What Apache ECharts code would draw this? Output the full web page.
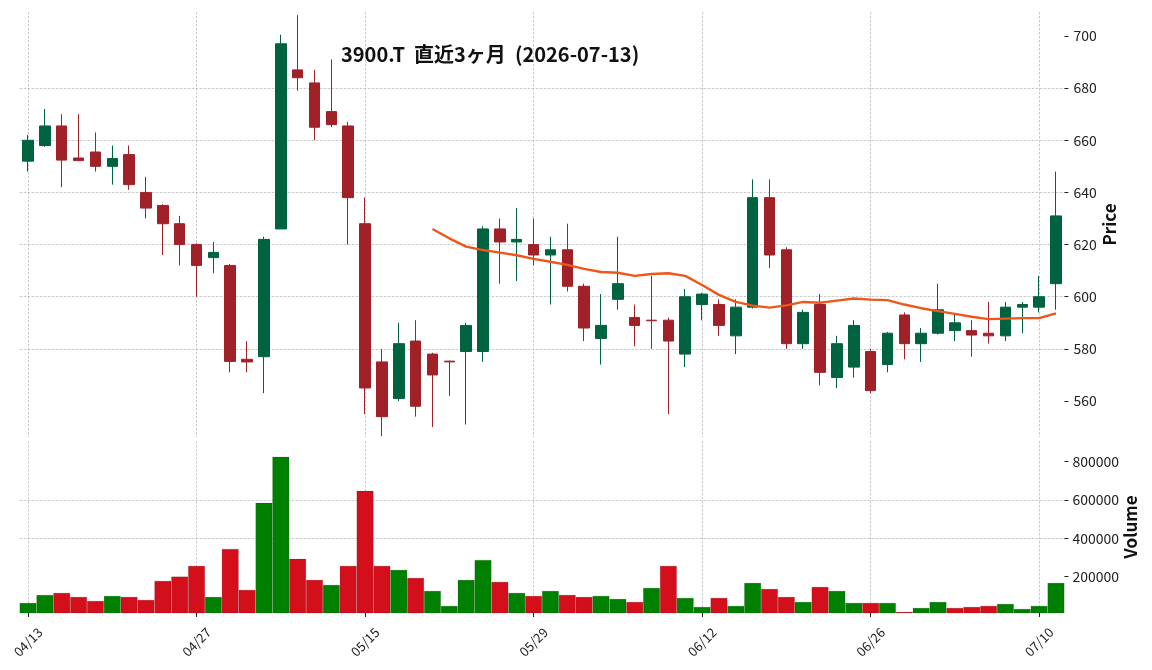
<!DOCTYPE html>
<html>
<head>
<meta charset="utf-8">
<script src="https://cdn.jsdelivr.net/npm/echarts@6/dist/echarts.min.js"></script>
<style>
html, body { margin: 0; padding: 0; background: #fff; }
#chart { width: 1152px; height: 670px; }
</style>
</head>
<body>
<div id="chart"></div>
<script>
// 3900.T daily candles, last 3 months
var dates = ['04/13','04/14','04/15','04/16','04/17','04/20','04/21','04/22','04/23','04/24',
    '04/27','04/28','04/30','05/01','05/07','05/08','05/11','05/12','05/13','05/14',
    '05/15','05/18','05/19','05/20','05/21','05/22','05/25','05/26','05/27','05/28',
    '05/29','06/01','06/02','06/03','06/04','06/05','06/08','06/09','06/10','06/11',
    '06/12','06/15','06/16','06/17','06/18','06/19','06/22','06/23','06/24','06/25',
    '06/26','06/29','06/30','07/01','07/02','07/03','07/06','07/07','07/08','07/09',
    '07/10','07/13'];
var opens = [652, 658, 665.5, 653.2, 655.5, 650, 654.5, 640, 635, 628,
    620, 615, 612, 576, 577, 626, 687, 682, 671, 665.5,
    628, 575, 561, 583, 578, 575.3, 579, 579, 626, 621,
    620, 616, 618, 604, 584, 599, 592, 591, 591, 578,
    597, 597, 585, 596, 638, 618, 582, 597, 569, 573,
    579, 574, 593, 582, 586, 587, 587, 586, 585, 596,
    596, 605];
var closes = [660, 665.5, 652.4, 652.2, 650, 653, 643, 634, 628, 620,
    612, 617, 575.2, 575, 622, 697, 684, 665, 666, 638,
    565, 554, 582, 558, 570, 575, 589, 626, 621, 622,
    616, 618, 604, 588, 589, 605, 589, 590.8, 583, 600,
    601, 589, 596, 638, 616, 582, 594, 571, 582, 589,
    564, 586, 582, 586, 595, 590, 585.3, 585, 596, 597,
    600, 631];
var lows = [648, 657.5, 642, 652, 648, 643, 641, 630, 616, 612,
    600, 609, 571, 571, 563, 626, 679, 660, 665, 620,
    555, 546.5, 560, 554, 550, 562, 551, 575, 605, 606,
    612, 597, 602, 583, 574, 595, 581, 580, 555, 573,
    591, 585, 578, 595.5, 611, 580, 580, 566, 565, 569,
    563, 571, 576, 575, 585.5, 583, 577, 582, 583, 586,
    594, 595];
var highs = [662, 672, 670, 670, 663, 658, 658, 646, 635.5, 631,
    620.5, 621, 612.5, 583, 623, 700.5, 708, 687, 691, 667,
    638, 580, 590, 591, 578.5, 575.5, 590, 627, 630, 634,
    630, 623, 628, 605, 601, 623, 597, 608, 592, 603,
    601.5, 599, 599, 645, 645, 619, 595, 601, 585, 591,
    580, 586.5, 594, 588, 605, 593, 591, 598, 598, 598,
    608, 648];
var volumes = [62600, 104000, 114800, 93900, 73000, 99100, 93900, 78300, 177400, 200000,
    255600, 93900, 344300, 130400, 584300, 824300, 292200, 182600, 156500, 255600,
    646900, 255600, 234800, 193000, 125200, 47000, 182600, 286900, 172200, 114800,
    99100, 125200, 104300, 93900, 99100, 83500, 67800, 140900, 255600, 88700,
    41700, 88700, 47000, 167000, 135600, 93900, 67800, 146100, 125200, 62600,
    62600, 62600, 16000, 36500, 67800, 36500, 41700, 47000, 57400, 31300,
    47000, 167000];
// 25-day moving average as drawn (starts on the 25th candle)
var ma25 = [null, null, null, null, null, null, null, null, null, null,
    null, null, null, null, null, null, null, null, null, null,
    null, null, null, null, 626, 622.4, 619.2, 617.9, 616.9, 615.9,
    614.5, 613.4, 612.2, 610.7, 609.5, 609.2, 608.0, 608.7, 609.0, 608.0,
    604.5, 600.7, 598.0, 596.6, 595.8, 596.7, 598.0, 597.7, 598.5, 599.3,
    598.9, 598.7, 597.0, 595.6, 594.5, 593.4, 592.3, 591.4, 591.6, 591.8,
    591.8, 593.6];
var priceTicks = [560, 580, 600, 620, 640, 660, 680, 700];
var volumeTicks = [200000, 400000, 600000, 800000];

var upColor = '#006340', downColor = '#a02128';
var volUp = '#008000', volDown = '#d40f1c';
var fontName = '"Noto Sans CJK JP", "Noto Sans", sans-serif';
var gridLine = { color: '#bdbdbd', width: 0.8, type: [2.5, 1.5] };

var candleData = dates.map(function (d, i) {
    return [opens[i], closes[i], lows[i], highs[i]];
});
var volumeData = volumes.map(function (v, i) {
    var up = i === 0 || closes[i] >= closes[i - 1];
    return { value: v, itemStyle: { color: up ? volUp : volDown } };
});

function everyTenth(index) { return index % 10 === 0; }

// hidden value axis, only to draw the vertical dashed grid at the label dates
function vGridAxis(gridIndex) {
    return {
        type: 'value', gridIndex: gridIndex, min: -0.5, max: dates.length - 0.5,
        splitNumber: 6, minInterval: 10, maxInterval: 10,
        axisLine: { show: false, onZero: false }, axisTick: { show: false }, axisLabel: { show: false },
        splitLine: { show: true, showMinLine: false, showMaxLine: false, lineStyle: gridLine }
    };
}

var chart = echarts.init(document.getElementById('chart'));
chart.setOption({
    animation: false,
    backgroundColor: '#fff',
    textStyle: { fontFamily: fontName },
    title: {
        text: '3900.T  直近3ヶ月  (2026-07-13)',
        left: 341, top: 44, padding: 0,
        textStyle: { fontSize: 20, fontWeight: 'bold', color: '#111', fontFamily: fontName }
    },
    grid: [
        { left: 19.6, right: 87.6, top: 12, height: 425 },
        { left: 19.6, right: 87.6, top: 441, height: 172 }
    ],
    xAxis: [
        { type: 'category', gridIndex: 0, data: dates, boundaryGap: true,
          axisLine: { show: false, onZero: false }, axisTick: { show: false }, axisLabel: { show: false },
          splitLine: { show: false } },
        { type: 'category', gridIndex: 1, data: dates, boundaryGap: true,
          axisLine: { show: false, onZero: false },
          axisTick: { show: true, alignWithLabel: true, interval: everyTenth, length: 4,
                      lineStyle: { color: '#222', width: 1 } },
          axisLabel: { interval: everyTenth, rotate: 45, align: 'center', verticalAlign: 'middle',
                       margin: 29, fontSize: 13, color: '#222' },
          splitLine: { show: false } },
        vGridAxis(0),
        vGridAxis(1)
    ],
    yAxis: [
        { type: 'value', gridIndex: 0, position: 'right', min: 546.2, max: 709.2,
          splitNumber: 8, minInterval: 20, maxInterval: 20,
          axisLine: { show: false, onZero: false },
          axisTick: { show: true, length: 4, customValues: priceTicks, lineStyle: { color: '#222' } },
          axisLabel: { customValues: priceTicks, margin: 9, fontSize: 14, color: '#222' },
          splitLine: { show: true, showMinLine: false, showMaxLine: false, lineStyle: gridLine },
          name: 'Price', nameLocation: 'middle', nameRotate: 90, nameGap: 37,
          nameMoveOverlap: false,
          nameTextStyle: { fontSize: 17, fontWeight: 'bold', color: '#111' } },
        { type: 'value', gridIndex: 1, position: 'right', min: 10000, max: 906700,
          splitNumber: 5, minInterval: 200000, maxInterval: 200000,
          axisLine: { show: false, onZero: false },
          axisTick: { show: true, length: 4, customValues: volumeTicks, lineStyle: { color: '#222' } },
          axisLabel: { customValues: volumeTicks, margin: 8, fontSize: 14, color: '#222',
                       formatter: function (v) { return String(v); } },
          splitLine: { show: true, showMinLine: false, showMaxLine: false, lineStyle: gridLine },
          name: 'Volume', nameLocation: 'middle', nameRotate: 90, nameGap: 58,
          nameMoveOverlap: false,
          nameTextStyle: { fontSize: 17, fontWeight: 'bold', color: '#111' } }
    ],
    series: [
        {
            name: '3900.T', type: 'candlestick', xAxisIndex: 0, yAxisIndex: 0,
            data: candleData, barWidth: 11,
            itemStyle: { color: upColor, color0: downColor, borderColor: upColor,
                         borderColor0: downColor, borderWidth: 1 }
        },
        {
            name: 'MA25', type: 'line', xAxisIndex: 0, yAxisIndex: 0,
            data: ma25, showSymbol: false, connectNulls: false,
            lineStyle: { color: '#f0561a', width: 2.4 }
        },
        {
            name: 'Volume', type: 'bar', xAxisIndex: 1, yAxisIndex: 1,
            data: volumeData, barWidth: '100%',
            itemStyle: { borderColor: 'rgba(0,0,0,0.25)', borderWidth: 0.5 }
        }
    ]
});
</script>
</body>
</html>
